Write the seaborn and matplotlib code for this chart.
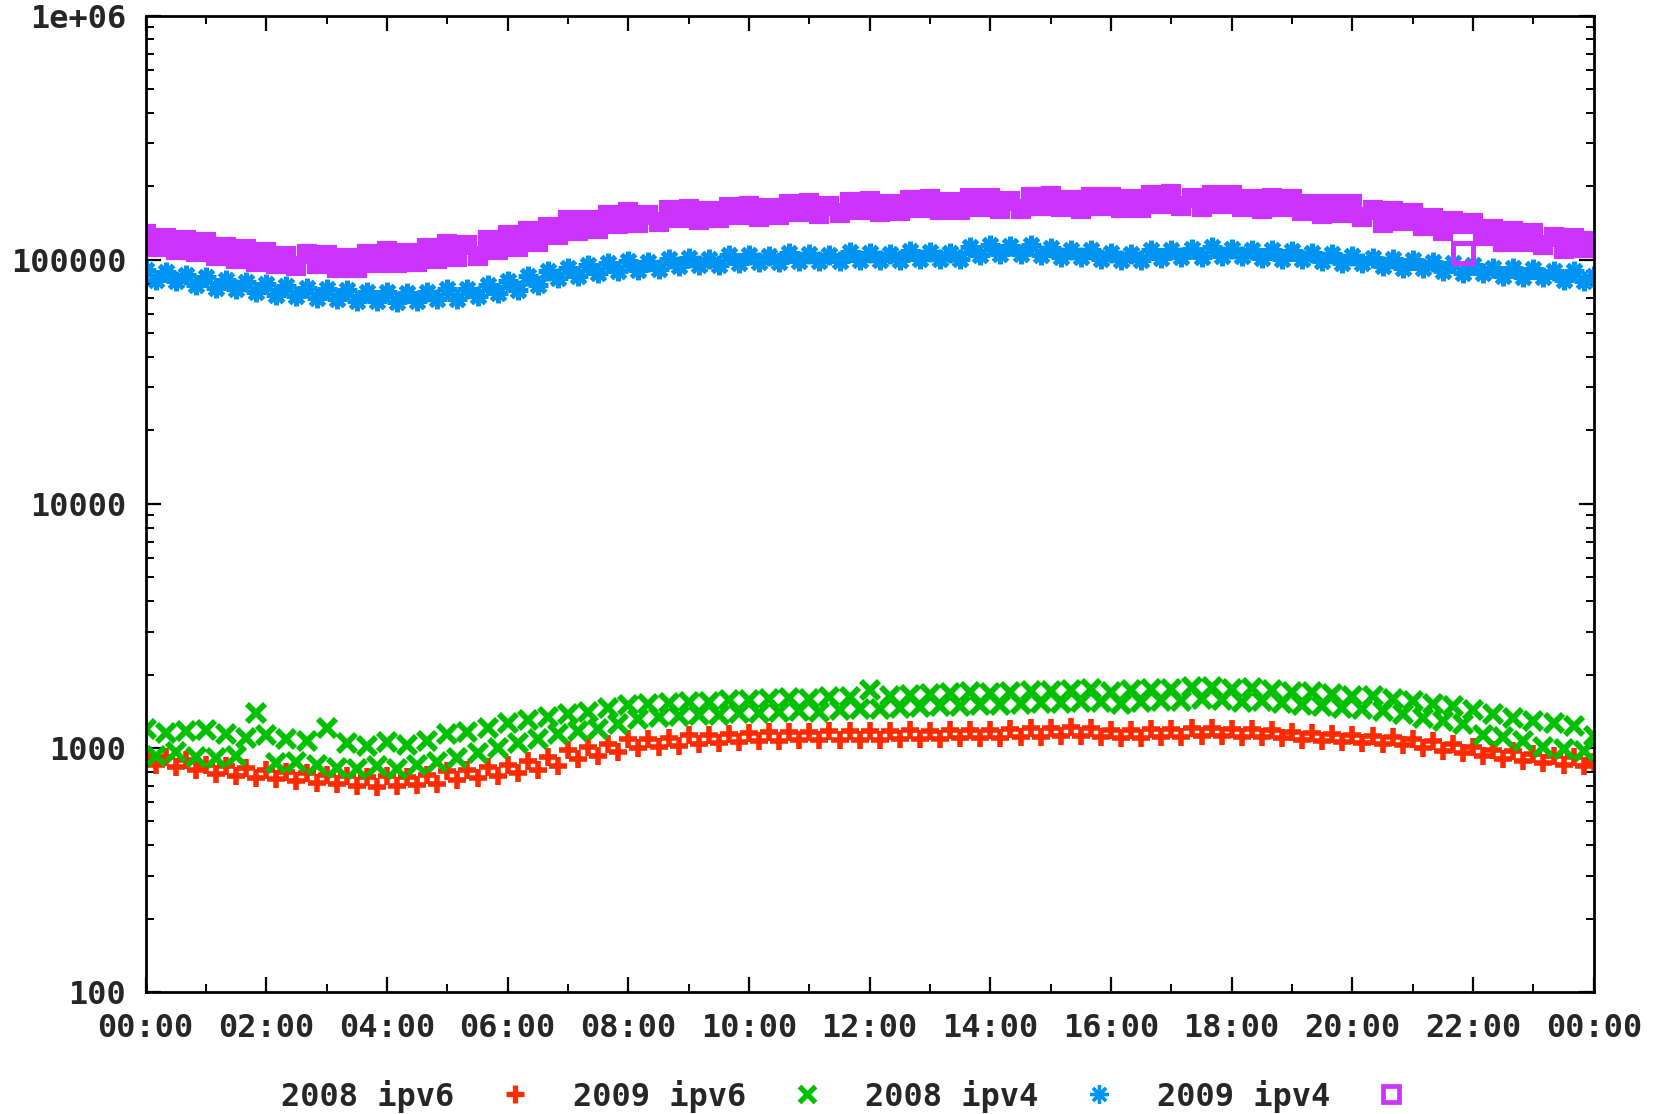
import numpy as np
import pandas as pd
import matplotlib
matplotlib.use("Agg")
import matplotlib.pyplot as plt
from matplotlib.lines import Line2D
from matplotlib.ticker import FixedLocator, LogLocator, NullFormatter
import seaborn as sns

# ---- data (10-minute samples, 00:00 .. 24:00) ----
ipv4_2009_k = [
    128,113,123,110,121,108, 118,104,113,101,111,98, 108,96,104,94,106,96,
    105,93,102,93,106,97, 109,97,107,98,112,101, 116,103,115,104,121,110,
    126,113,131,118,137,127, 146,131,146,134,152,140, 157,141,153,143,160,148,
    162,146,158,148,165,153, 167,150,163,152,169,157, 171,154,167,155,173,160,
    175,157,170,158,176,163, 178,160,173,160,179,165, 180,162,175,162,181,167,
    182,164,176,162,181,167, 181,163,177,163,184,170, 186,166,180,165,185,170,
    185,165,178,161,179,164, 178,158,170,154,169,155, 169,150,160,142,158,144,
    156,138,148,131,144,140, 141,125,134,118,131,118, 129,115,124,111,123,112,
    119]
# one isolated 2009 ipv4 sample that falls inside the 2008 ipv4 band
ipv4_2009_outlier_hours = [21.84]
ipv4_2009_outlier_k = [107]
ipv4_2008_k = [
    91,83,89,82,87,79, 85,77,83,76,81,74, 80,72,78,71,77,70,
    76,69,75,68,74,68, 74,67,73,68,74,69, 76,69,76,71,79,73,
    82,75,86,79,90,84, 93,86,95,88,97,90, 99,91,98,92,101,94,
    102,95,101,95,105,97, 105,98,104,98,107,99, 106,99,105,99,108,100,
    107,100,106,100,109,101, 108,101,107,101,113,105, 115,106,114,106,115,105,
    112,103,110,103,110,101, 107,100,106,100,110,102, 110,103,111,103,113,104,
    111,104,110,102,110,101, 109,101,107,99,106,97, 104,97,102,94,101,93,
    100,93,98,90,97,88, 95,88,93,86,93,85, 92,85,90,83,90,82,
    86]
ipv6_2009 = [
    1200,930,1150,960,1170,920, 1190,910,1140,930,1100,1390, 1130,870,1090,880,1070,850,
    1210,830,1050,820,1020,840, 1060,820,1030,850,1070,880, 1140,910,1160,950,1210,1000,
    1270,1050,1300,1090,1340,1140, 1380,1170,1410,1200,1460,1250, 1500,1320,1520,1340,1530,1350,
    1540,1360,1550,1370,1570,1390, 1570,1390,1590,1410,1600,1420, 1590,1410,1610,1430,1620,1440,
    1720,1440,1630,1460,1650,1470, 1660,1480,1680,1490,1690,1500, 1680,1500,1700,1520,1710,1530,
    1710,1530,1730,1540,1740,1550, 1700,1520,1720,1540,1750,1560, 1750,1560,1770,1580,1780,1570,
    1750,1550,1760,1560,1730,1530, 1690,1500,1700,1490,1670,1460, 1640,1440,1630,1420,1590,1380,
    1560,1330,1520,1290,1480,1250, 1430,1130,1380,1110,1330,1070, 1290,1010,1260,990,1230,970,
    1120]
ipv6_2008 = [
    930,850,915,835,895,815, 855,785,840,770,825,755, 810,745,800,730,790,720,
    775,710,765,700,760,695, 765,700,760,705,775,715, 805,740,815,750,835,765,
    855,790,885,815,915,845, 980,905,1010,930,1040,960, 1085,1000,1090,1010,1100,1020,
    1125,1035,1130,1045,1145,1055, 1155,1065,1160,1070,1165,1075, 1165,1075,1170,1080,1175,1080,
    1170,1080,1175,1085,1180,1090, 1175,1090,1185,1095,1190,1100, 1185,1100,1195,1105,1205,1110,
    1210,1115,1215,1120,1205,1110, 1185,1095,1190,1100,1195,1105, 1200,1110,1205,1115,1210,1120,
    1200,1110,1195,1105,1185,1095, 1165,1075,1155,1065,1145,1055, 1130,1045,1120,1035,1110,1025,
    1090,1000,1065,975,1035,950, 1005,925,985,905,970,885, 945,870,930,855,915,845,
    875]

hours = np.arange(len(ipv6_2008)) / 6.0
series_labels = ["2008 ipv6", "2009 ipv6", "2008 ipv4", "2009 ipv4"]
xtick_labels = ["00:00", "02:00", "04:00", "06:00", "08:00", "10:00", "12:00",
                "14:00", "16:00", "18:00", "20:00", "22:00", "00:00"]
ytick_values = [100, 1000, 10000, 100000, 1000000]
ytick_labels = ["100", "1000", "10000", "100000", "1e+06"]

df = pd.DataFrame({
    "hours": hours,
    "2008 ipv6": ipv6_2008,
    "2009 ipv6": ipv6_2009,
    "2008 ipv4": [v * 1000 for v in ipv4_2008_k],
    "2009 ipv4": [v * 1000 for v in ipv4_2009_k],
})
df_out = pd.DataFrame({"hours": ipv4_2009_outlier_hours,
                       "2009 ipv4": [v * 1000 for v in ipv4_2009_outlier_k]})

sns.set_theme(style="white")
plt.rcParams["font.family"] = ["DejaVu Sans Mono", "DejaVu Sans"]
plt.rcParams["font.weight"] = "bold"

FS = 23

fig = plt.figure(figsize=(16.55, 11.14), dpi=100)
ax = fig.add_axes([0.088, 0.1095, 0.875, 0.8763])

COL = {"2008 ipv6": "#ff2a00", "2009 ipv6": "#00c000",
       "2008 ipv4": "#0094f2", "2009 ipv4": "#cc33ff"}
# dense overlapping samples: in the plot area the open squares merge into a solid band
styles = {
    "2008 ipv6": dict(marker="+", ms=13, mew=4.0, mfc="none"),
    "2009 ipv6": dict(marker="x", ms=12.5, mew=4.2, mfc="none"),
    "2008 ipv4": dict(marker=(8, 2, 0), ms=14, mew=3.6, mfc="none"),
    "2009 ipv4": dict(marker="s", ms=12, mew=3.0, mfc=COL["2009 ipv4"]),
}
legend_ms = {"2008 ipv6": (13, 3.8), "2009 ipv6": (11, 3.8),
             "2008 ipv4": (13, 2.4), "2009 ipv4": (11, 3.4)}

handles = []
for lab in series_labels:
    st = styles[lab]
    c = COL[lab]
    sns.lineplot(data=df, x="hours", y=lab, ax=ax, estimator=None, sort=False,
                 linestyle="none", marker=st["marker"], markersize=st["ms"],
                 markeredgewidth=st["mew"], markerfacecolor=st["mfc"],
                 markeredgecolor=c, color=c, legend=False)
    lms, lmew = legend_ms[lab]
    handles.append(Line2D([], [], linestyle="none", marker=st["marker"],
                          markersize=lms, markeredgewidth=lmew,
                          markerfacecolor="none", markeredgecolor=c,
                          color=c, label=lab))

sns.lineplot(data=df_out, x="hours", y="2009 ipv4", ax=ax, estimator=None,
             linestyle="none", marker="s", markersize=14, markeredgewidth=3.6,
             markerfacecolor="none", markeredgecolor=COL["2009 ipv4"],
             color=COL["2009 ipv4"], legend=False)

ax.set_yscale("log")
ax.set_ylim(100, 1e6)
ax.set_xlim(0, 24)
ax.set_xticks(np.arange(0, 25, 2))
ax.set_xticklabels(xtick_labels)
ax.xaxis.set_minor_locator(FixedLocator(np.arange(1, 24, 2)))
ax.set_yticks(ytick_values)
ax.set_yticklabels(ytick_labels)
ax.yaxis.set_minor_locator(LogLocator(base=10, subs=np.arange(2, 10), numticks=20))
ax.yaxis.set_minor_formatter(NullFormatter())
ax.set_xlabel("")
ax.set_ylabel("")

for sp in ax.spines.values():
    sp.set_visible(True)
    sp.set_color("black")
    sp.set_linewidth(2.0)

ax.tick_params(axis="both", which="both", direction="in", top=True, right=True,
               bottom=True, left=True, color="black", labelsize=FS)
ax.tick_params(axis="both", which="major", length=11, width=1.6)
ax.tick_params(axis="both", which="minor", length=6, width=1.4)
ax.tick_params(axis="x", which="major", pad=15)
ax.tick_params(axis="y", which="major", pad=14)
for t in ax.get_xticklabels() + ax.get_yticklabels():
    t.set_fontweight("bold")

leg = fig.legend(handles=handles, loc="center", bbox_to_anchor=(0.509, 0.016),
                 ncol=4, frameon=False, markerfirst=False, fontsize=FS,
                 handlelength=0.8, handletextpad=1.5, columnspacing=1.42)
for t in leg.get_texts():
    t.set_fontweight("bold")

fig.savefig("out.png", dpi=100, facecolor="white")
